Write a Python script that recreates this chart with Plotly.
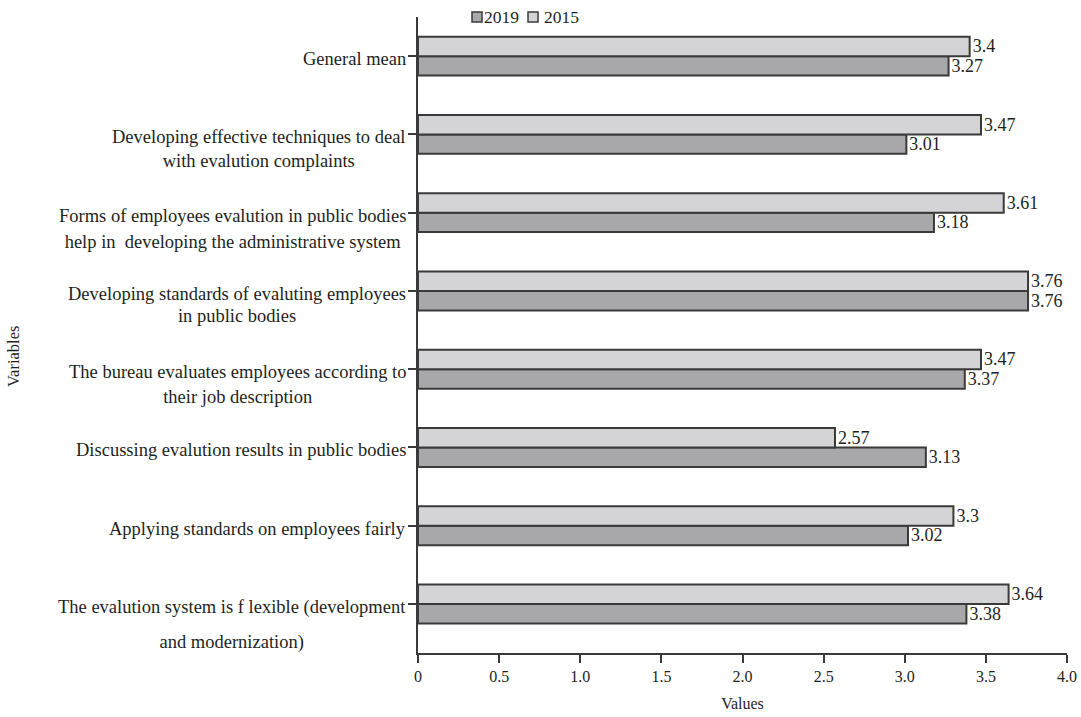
import plotly.graph_objects as go

# Survey items, listed from top to bottom of the chart
categories = [
    "General mean",
    "Developing effective techniques to deal<br>with evalution complaints",
    "Forms of employees evalution in public bodies<br>help in  developing the administrative system",
    "Developing standards of evaluting employees<br>in public bodies",
    "The bureau evaluates employees according to<br>their job description",
    "Discussing evalution results in public bodies",
    "Applying standards on employees fairly",
    "The evalution system is f lexible (development<br>and modernization)",
]
values_2015 = [3.4, 3.47, 3.61, 3.76, 3.47, 2.57, 3.3, 3.64]
values_2019 = [3.27, 3.01, 3.18, 3.76, 3.37, 3.13, 3.02, 3.38]
series_names = ["2019", "2015"]
x_tick_values = [0, 0.5, 1.0, 1.5, 2.0, 2.5, 3.0, 3.5, 4.0]
x_tick_labels = ["0", "0.5", "1.0", "1.5", "2.0", "2.5", "3.0", "3.5", "4.0"]

# Layout helpers: baseline-to-baseline spacing (px) of the two-line labels
line_gaps = [24, 23.5, 26, 22, 24.5, 24, 24, 34.5]

FONT = "Liberation Serif, Times New Roman, serif"
LABEL_SIZE = 18.5
INK = "#231f20"
EDGE = "#3a3a3a"
COLORS = {"2019": "#a8a8ab", "2015": "#d4d4d6"}

W, H = 1081, 717
ML, MR, MT, MB = 418, 14, 17, 64
PW, PH = W - ML - MR, H - MT - MB

# Plotly stacks categories bottom-up, so reverse to keep "General mean" on top
order = list(range(len(categories)))[::-1]
cats_bottom_up = [categories[i] for i in order]
series_values = {
    "2019": [values_2019[i] for i in order],
    "2015": [values_2015[i] for i in order],
}

fig = go.Figure()
for name in series_names:
    vals = series_values[name]
    fig.add_trace(go.Bar(
        name=name, y=cats_bottom_up, x=vals, orientation="h",
        marker=dict(color=COLORS[name], line=dict(color=EDGE, width=2)),
        text=[str(v) for v in vals], textposition="outside",
        textfont=dict(family=FONT, size=18, color=INK),
        cliponaxis=False, constraintext="none", showlegend=False,
    ))

# Category labels drawn as annotations so wrapped lines are centred
annotations = []
for label, gap in zip(categories, line_gaps):
    outer = gap / 1.3
    parts = label.split("<br>")
    txt = "<br>".join(
        f"<span style='font-size:{LABEL_SIZE}px'>{p}</span>" for p in parts
    )
    annotations.append(dict(
        xref="paper", yref="y", x=0, y=label, xanchor="right", yanchor="top",
        xshift=-12, yshift=7, text=txt, align="center", showarrow=False,
        borderpad=0, borderwidth=0,
        font=dict(family=FONT, size=outer, color=INK),
    ))

def px_x(px):
    return (px - ML) / PW

def px_y(py):
    return (H - MB - py) / PH

annotations.append(dict(
    xref="paper", yref="paper", x=px_x(13), y=px_y(357),
    xanchor="center", yanchor="middle", text="Variables", textangle=-90,
    showarrow=False, font=dict(family=FONT, size=16.5, color=INK),
))

# Compact legend: small outlined swatch followed by its label
shapes = []
legend_slots = {"2019": (472, 484), "2015": (528, 544)}
for name in series_names:
    swatch_left, text_left = legend_slots[name]
    shapes.append(dict(
        type="rect", xref="paper", yref="paper",
        x0=px_x(swatch_left), x1=px_x(swatch_left + 10),
        y0=px_y(22), y1=px_y(12),
        fillcolor=COLORS[name], line=dict(color=EDGE, width=1.5),
    ))
    annotations.append(dict(
        xref="paper", yref="paper", x=px_x(text_left), y=px_y(17),
        xanchor="left", yanchor="middle", text=name, showarrow=False,
        borderpad=0, borderwidth=0,
        font=dict(family=FONT, size=17.5, color=INK),
    ))

fig.update_layout(
    width=W, height=H,
    margin=dict(l=ML, r=MR, t=MT, b=MB, autoexpand=False),
    paper_bgcolor="white", plot_bgcolor="white",
    barmode="group", bargap=0.503, bargroupgap=0,
    font=dict(family=FONT, color=INK),
    showlegend=False,
    xaxis=dict(
        range=[0, 4], tickvals=x_tick_values, ticktext=x_tick_labels,
        ticks="outside", ticklen=8, tickwidth=2, tickcolor=EDGE,
        showline=True, linewidth=2, linecolor=EDGE,
        showgrid=False, zeroline=False, automargin=False,
        tickfont=dict(family=FONT, size=16, color=INK),
        title=dict(text="Values", font=dict(family=FONT, size=16, color=INK), standoff=14),
    ),
    yaxis=dict(
        categoryorder="array", categoryarray=cats_bottom_up,
        ticks="outside", ticklen=8, tickwidth=2, tickcolor=EDGE,
        showline=True, linewidth=2, linecolor=EDGE,
        showgrid=False, zeroline=False, showticklabels=False, automargin=False,
    ),
    annotations=annotations,
    shapes=shapes,
)

fig.write_html("out.html")
